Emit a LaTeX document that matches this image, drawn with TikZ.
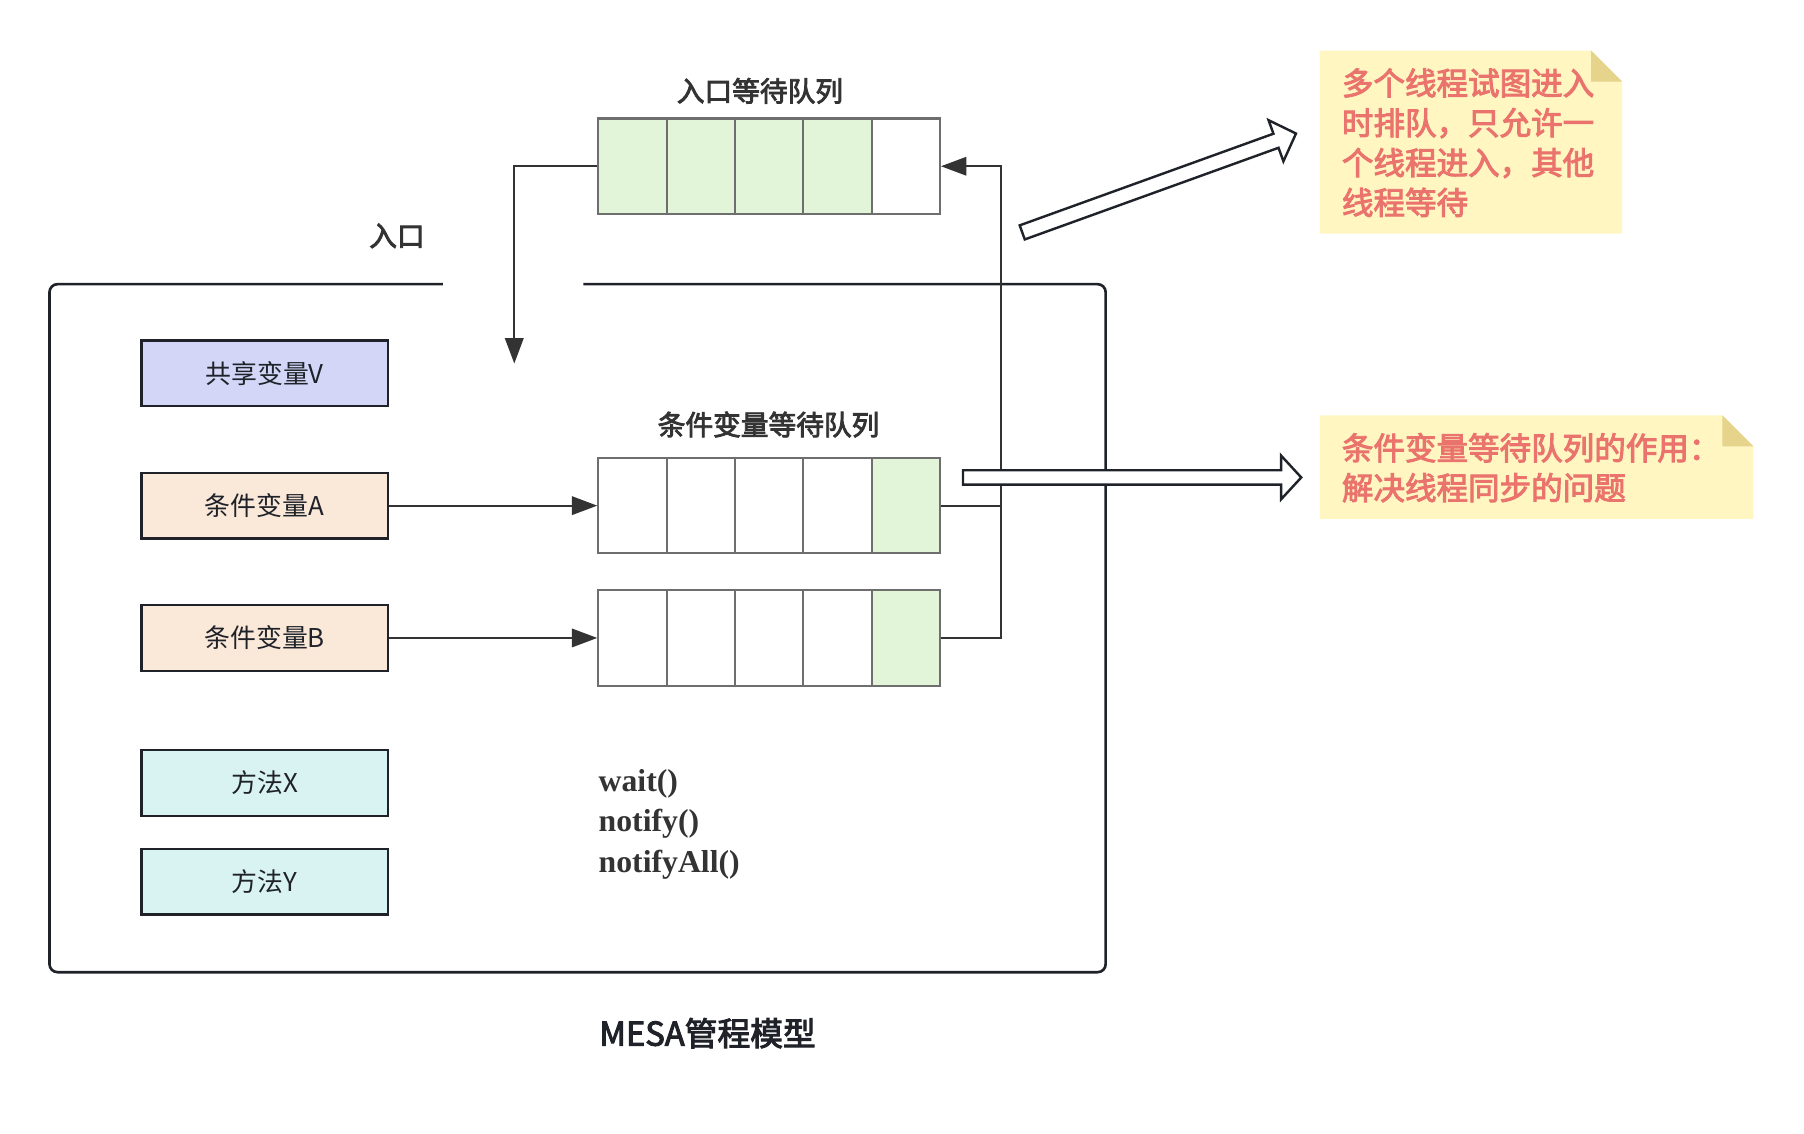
\documentclass[tikz,border=0pt]{standalone}
\usepackage{fontspec}
\setmainfont{Noto Sans CJK SC}
\newfontfamily\medfont{Noto Sans CJK SC}[FakeBold=3]
\newfontfamily\codefont{Liberation Serif}
\usetikzlibrary{arrows.meta}

\definecolor{linec}{HTML}{1F2329}
\definecolor{arrowc}{HTML}{333333}
\definecolor{cellc}{HTML}{6E6E6E}
\definecolor{varfill}{HTML}{D3D6F7}
\definecolor{condfill}{HTML}{FAE8D9}
\definecolor{methfill}{HTML}{D9F3F3}
\definecolor{waitfill}{HTML}{E2F5D8}
\definecolor{notefill}{HTML}{FFF6C1}
\definecolor{foldfill}{HTML}{E6D38C}
\definecolor{notetext}{HTML}{EA736D}

\begin{document}
\begin{tikzpicture}[
    box/.style={draw=linec, line width=1.2pt, minimum width=4.28cm, minimum height=1.14cm, inner sep=0pt, text=linec, font=\fontsize{12.8}{15}\selectfont},
    cell/.style={draw=cellc, line width=1pt, minimum width=1.188cm, minimum height=1.66cm, inner sep=0pt},
    title/.style={text=arrowc, font=\medfont\fontsize{13.7}{16}\selectfont},
    arrow/.style={draw=arrowc, line width=1pt, -{Triangle[length=0.44cm, width=0.32cm]}},
    hollow/.style={draw=linec, fill=white, line width=1.2pt, line join=miter},
    notetxt/.style={text=notetext, align=left, anchor=west, inner sep=0pt, font=\medfont\fontsize{15.6}{19.7}\selectfont}
  ]
    \useasboundingbox (0,0) rectangle (31.36,-19.7);

    % 管程外框
    \draw[draw=linec, line width=1.3pt, rounded corners=0.14cm] (7.7,-4.94) -- (0.86,-4.94) -- (0.86,-16.9) -- (19.22,-16.9) -- (19.22,-4.94) -- (10.14,-4.94);

    % 变量和方法
    \node[box, fill=varfill] (V) at (4.6,-6.49) {共享变量V};
    \node[box, fill=condfill] (CA) at (4.6,-8.79) {条件变量A};
    \node[box, fill=condfill] (CB) at (4.6,-11.09) {条件变量B};
    \node[box, fill=methfill] (MX) at (4.6,-13.61) {方法X};
    \node[box, fill=methfill] (MY) at (4.6,-15.33) {方法Y};

    % 入口等待队列
    \node[cell, fill=waitfill] (E1) at (10.994,-2.89) {};
    \node[cell, fill=waitfill] (E2) at (12.182,-2.89) {};
    \node[cell, fill=waitfill] (E3) at (13.37,-2.89) {};
    \node[cell, fill=waitfill] (E4) at (14.558,-2.89) {};
    \node[cell, fill=white] (E5) at (15.746,-2.89) {};

    % 条件变量等待队列
    \node[cell, fill=white] (A1) at (10.994,-8.79) {};
    \node[cell, fill=white] (A2) at (12.182,-8.79) {};
    \node[cell, fill=white] (A3) at (13.37,-8.79) {};
    \node[cell, fill=white] (A4) at (14.558,-8.79) {};
    \node[cell, fill=waitfill] (A5) at (15.746,-8.79) {};

    \node[cell, fill=white] (B1) at (10.994,-11.09) {};
    \node[cell, fill=white] (B2) at (12.182,-11.09) {};
    \node[cell, fill=white] (B3) at (13.37,-11.09) {};
    \node[cell, fill=white] (B4) at (14.558,-11.09) {};
    \node[cell, fill=waitfill] (B5) at (15.746,-11.09) {};

    % 标题
    \node[title] (inlabel) at (6.9,-4.1) {入口};
    \node[title] (entrylabel) at (13.21,-1.58) {入口等待队列};
    \node[title] (condlabel) at (13.36,-7.38) {条件变量等待队列};
    \node[anchor=west, align=left, inner sep=0pt, text=arrowc, font=\codefont\bfseries\fontsize{15.7}{20}\selectfont] (methods) at (10.4,-14.33) {wait()\\notify()\\notifyAll()};
    \node[text=linec, font=\medfont\fontsize{16.2}{18}\selectfont] (caption) at (12.3,-17.96) {MESA管程模型};

    % 画线
    \coordinate (enter) at (8.94,-6.32);
    \draw[arrow] (E1.west) -| (enter);
    \draw[arrow] (CA.east) -- (A1.west);
    \draw[arrow] (CB.east) -- (B1.west);
    \draw[draw=arrowc, line width=1pt] (A5.east) -- ++(1.04,0);
    \draw[arrow] (B5.east) -- ++(1.04,0) |- (E5.east);

    % 便签
    \fill[notefill] (22.94,-0.88) -- (27.66,-0.88) -- (28.2,-1.42) -- (28.2,-4.06) -- (22.94,-4.06) -- cycle;
    \fill[foldfill] (27.66,-0.88) -- (28.2,-1.42) -- (27.66,-1.42) -- cycle;
    \node[notetxt] (note1) at (23.32,-2.48) {多个线程试图进入\\时排队，只允许一\\个线程进入，其他\\线程等待};

    \fill[notefill] (22.94,-7.22) -- (29.94,-7.22) -- (30.48,-7.76) -- (30.48,-9.02) -- (22.94,-9.02) -- cycle;
    \fill[foldfill] (29.94,-7.22) -- (30.48,-7.76) -- (29.94,-7.76) -- cycle;
    \node[notetxt] (note2) at (23.32,-8.13) {条件变量等待队列的作用：\\解决线程同步的问题};

    % 空心箭头
    \draw[hollow] (16.74,-8.175) -- (22.27,-8.175) -- (22.27,-7.92) -- (22.62,-8.30) -- (22.27,-8.68) -- (22.27,-8.425) -- (16.74,-8.425) -- cycle;
    \begin{scope}[shift={(17.77,-4.04)}, rotate=19.86]
      \draw[hollow] (0,0.13) -- (4.69,0.13) -- (4.69,0.38) -- (5.06,0) -- (4.69,-0.38) -- (4.69,-0.13) -- (0,-0.13) -- cycle;
    \end{scope}

  \end{tikzpicture}
\end{document}
